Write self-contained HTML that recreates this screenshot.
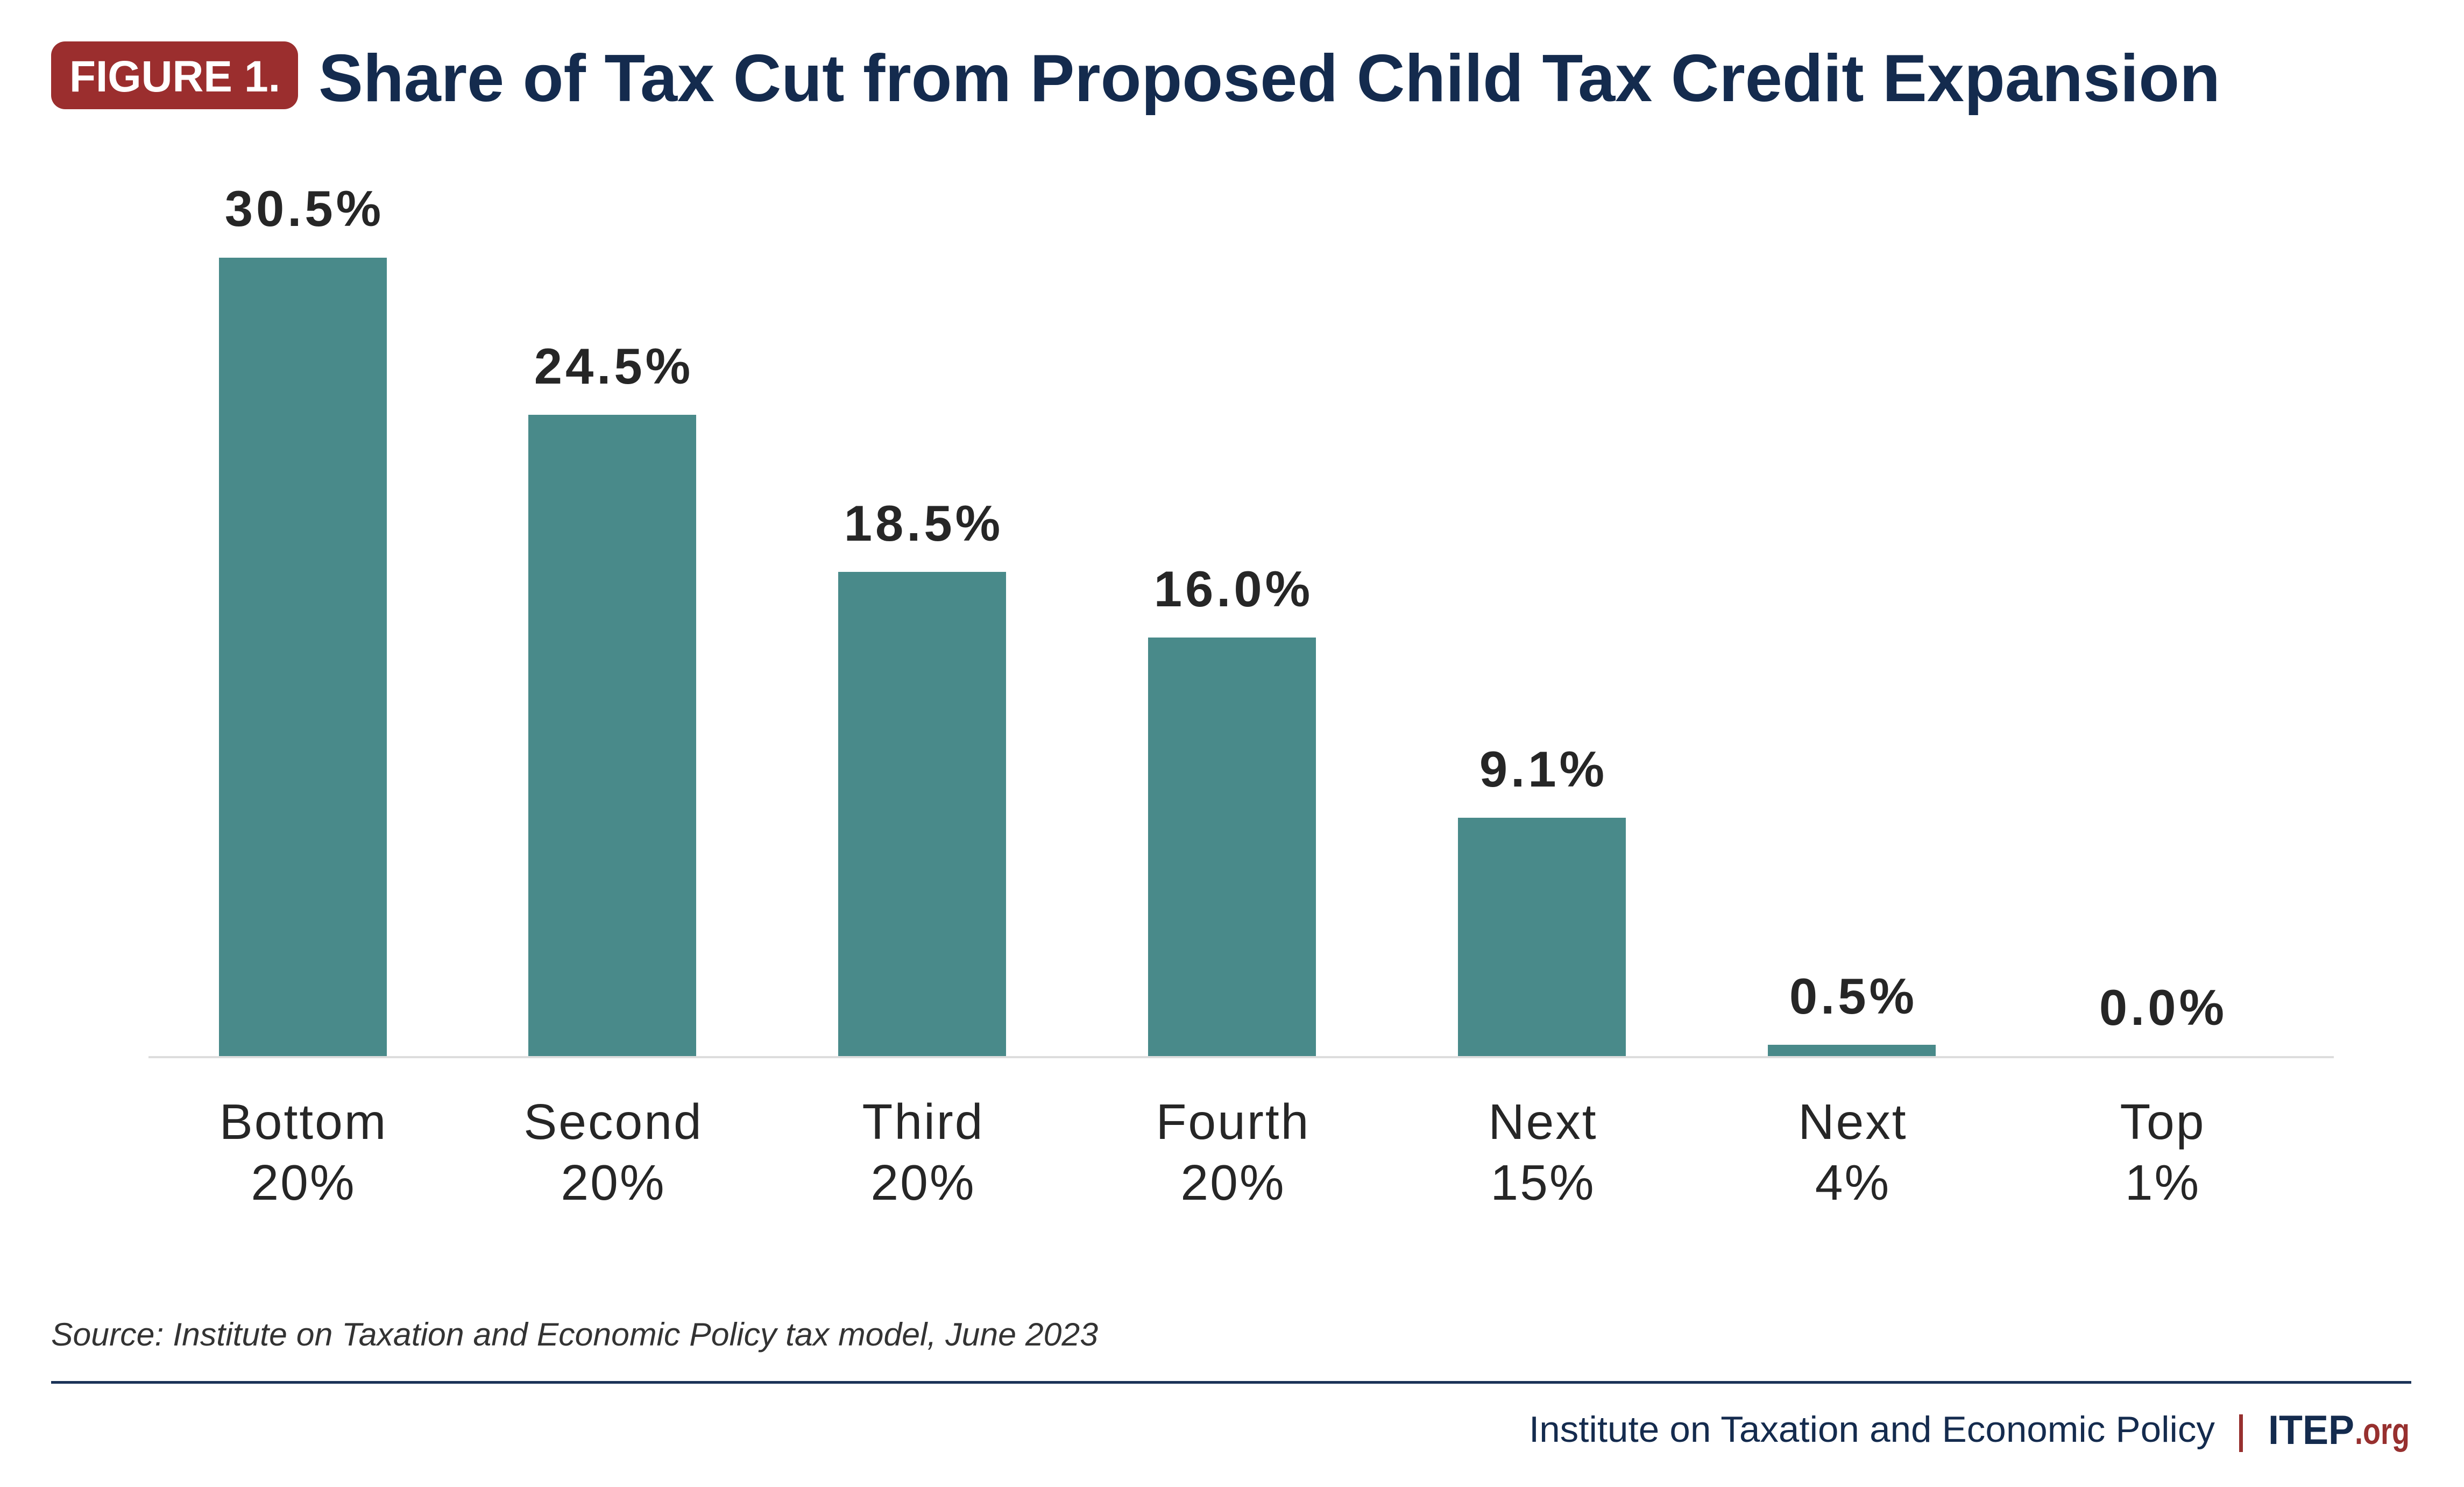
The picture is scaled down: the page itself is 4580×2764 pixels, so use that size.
<!DOCTYPE html>
<html>
<head>
<meta charset="utf-8">
<style>
  html,body{margin:0;padding:0;background:#ffffff;}
  body{width:4580px;height:2764px;overflow:hidden;}
  svg{display:block;}
  .val{font-family:"Liberation Sans",sans-serif;font-weight:bold;font-size:94px;fill:#262626;letter-spacing:6px;}
  .cat{font-family:"Liberation Sans",sans-serif;font-size:93px;fill:#262626;letter-spacing:3px;}
</style>
</head>
<body>
<svg width="4580" height="2764" viewBox="0 0 4580 2764" xmlns="http://www.w3.org/2000/svg">
  <rect x="0" y="0" width="4580" height="2764" fill="#ffffff"/>

  <!-- Badge -->
  <rect x="95" y="77" width="459" height="126" rx="26" ry="26" fill="#9b2e2e"/>
  <text x="129" y="170" font-family="Liberation Sans, sans-serif" font-weight="bold" font-size="82" fill="#ffffff" textLength="392" lengthAdjust="spacingAndGlyphs">FIGURE 1.</text>

  <!-- Title -->
  <text x="592" y="188" font-family="Liberation Sans, sans-serif" font-weight="bold" font-size="124" fill="#142b4e" textLength="3535" lengthAdjust="spacingAndGlyphs">Share of Tax Cut from Proposed Child Tax Credit Expansion</text>

  <!-- Bars -->
  <g fill="#498a8a">
    <rect x="407" y="479" width="312" height="1484"/>
    <rect x="982" y="771" width="312" height="1192"/>
    <rect x="1558" y="1063" width="312" height="900"/>
    <rect x="2134" y="1185" width="312" height="778"/>
    <rect x="2710" y="1520" width="312" height="443"/>
    <rect x="3286" y="1942" width="312" height="21"/>
  </g>

  <!-- Axis line -->
  <rect x="276" y="1963" width="4062" height="4" fill="#dddddd"/>

  <!-- Value labels -->
  <g class="val" text-anchor="middle">
    <text x="566" y="420">30.5%</text>
    <text x="1141" y="713">24.5%</text>
    <text x="1717" y="1005">18.5%</text>
    <text x="2293" y="1127">16.0%</text>
    <text x="2869" y="1462">9.1%</text>
    <text x="3445" y="1884">0.5%</text>
    <text x="4021" y="1905">0.0%</text>
  </g>

  <!-- Category labels -->
  <g class="cat" text-anchor="middle">
    <text x="564" y="2117">Bottom</text>
    <text x="564" y="2230">20%</text>
    <text x="1140" y="2117">Second</text>
    <text x="1140" y="2230">20%</text>
    <text x="1716" y="2117">Third</text>
    <text x="1716" y="2230">20%</text>
    <text x="2292" y="2117">Fourth</text>
    <text x="2292" y="2230">20%</text>
    <text x="2868" y="2117">Next</text>
    <text x="2868" y="2230">15%</text>
    <text x="3444" y="2117">Next</text>
    <text x="3444" y="2230">4%</text>
    <text x="4020" y="2117">Top</text>
    <text x="4020" y="2230">1%</text>
  </g>

  <!-- Source -->
  <text x="95" y="2501" font-family="Liberation Sans, sans-serif" font-style="italic" font-size="60" fill="#333333" textLength="1946" lengthAdjust="spacingAndGlyphs">Source: Institute on Taxation and Economic Policy tax model, June 2023</text>

  <!-- Footer rule -->
  <rect x="95" y="2567" width="4387" height="5" fill="#1b3358"/>

  <!-- Footer -->
  <text x="2842" y="2680" font-family="Liberation Sans, sans-serif" font-size="68" fill="#142b4e" textLength="1275" lengthAdjust="spacingAndGlyphs">Institute on Taxation and Economic Policy</text>
  <rect x="4162" y="2629" width="7" height="70" fill="#97302f"/>
  <text x="4216" y="2684" font-family="Liberation Sans, sans-serif" font-weight="bold" font-size="76" fill="#142b4e" textLength="160" lengthAdjust="spacingAndGlyphs">ITEP</text>
  <text x="4377" y="2684" font-family="Liberation Sans, sans-serif" font-weight="bold" font-size="70" fill="#97302f" textLength="102" lengthAdjust="spacingAndGlyphs">.org</text>
</svg>
</body>
</html>
